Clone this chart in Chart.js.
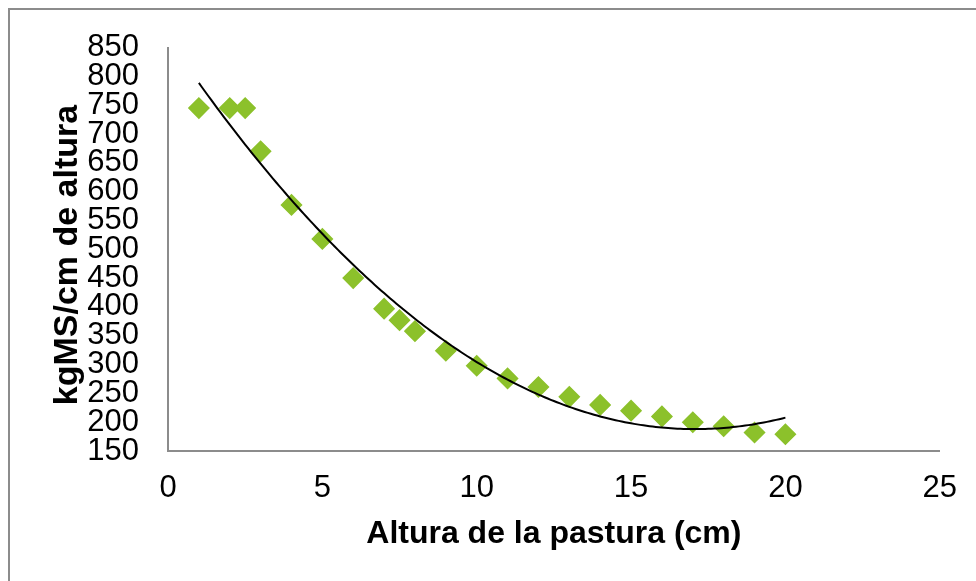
<!DOCTYPE html>
<html>
<head>
<meta charset="utf-8">
<script src="https://cdn.jsdelivr.net/npm/chart.js@4/dist/chart.umd.min.js"></script>
<style>
  html, body { margin: 0; padding: 0; background: #ffffff; }
  #wrap { width: 976px; height: 581px; position: relative; }
</style>
</head>
<body>
<div id="wrap"><canvas id="c" width="976" height="581"></canvas></div>
<script>
// Altura de la pastura (cm) y kgMS por cm de altura
const alturas = [1, 2, 2.5, 3, 4, 5, 6, 7, 7.5, 8, 9, 10, 11, 12, 13, 14, 15, 16, 17, 18, 19, 20];
const kgMS = [745, 745, 745, 670, 577, 518, 450, 397, 377, 358, 324, 298, 276, 261, 244, 230, 220, 210, 200, 193, 182, 179];

const xTicks = [0, 5, 10, 15, 20, 25];
const yTicks = [150, 200, 250, 300, 350, 400, 450, 500, 550, 600, 650, 700, 750, 800, 850];

const tituloX = 'Altura de la pastura (cm)';
const tituloY = 'kgMS/cm de altura';

// Polynomial (order 2) least-squares trendline
function ajustePoli2(xs, ys) {
  let n = xs.length, sx = 0, sx2 = 0, sx3 = 0, sx4 = 0, sy = 0, sxy = 0, sx2y = 0;
  for (let i = 0; i < n; i++) {
    const x = xs[i], y = ys[i], x2 = x * x;
    sx += x; sx2 += x2; sx3 += x2 * x; sx4 += x2 * x2;
    sy += y; sxy += x * y; sx2y += x2 * y;
  }
  // Solve normal equations with Cramer's rule
  const M = [[n, sx, sx2], [sx, sx2, sx3], [sx2, sx3, sx4]];
  const B = [sy, sxy, sx2y];
  const det3 = m => m[0][0] * (m[1][1] * m[2][2] - m[1][2] * m[2][1])
                  - m[0][1] * (m[1][0] * m[2][2] - m[1][2] * m[2][0])
                  + m[0][2] * (m[1][0] * m[2][1] - m[1][1] * m[2][0]);
  const D = det3(M);
  const coef = [0, 1, 2].map(k => det3(M.map((row, r) => row.map((v, c) => c === k ? B[r] : v))) / D);
  return coef; // c0 + c1 x + c2 x^2
}
const coef = ajustePoli2(alturas, kgMS);
const xMin = Math.min(...alturas), xMax = Math.max(...alturas);
const tendencia = [];
for (let i = 0; i <= 190; i++) {
  const x = xMin + (xMax - xMin) * i / 190;
  tendencia.push({ x, y: coef[0] + coef[1] * x + coef[2] * x * x });
}

const puntos = alturas.map((x, i) => ({ x, y: kgMS[i] }));

// Frame around the chart and the vertical axis title
const marco = {
  id: 'marco',
  afterDraw(chart) {
    const ctx = chart.ctx;
    ctx.save();
    ctx.strokeStyle = '#8c8c8c';
    ctx.lineWidth = 2;
    ctx.strokeRect(9, 9, 1200, 1200);
    ctx.fillStyle = '#000000';
    ctx.font = 'bold 34px "Liberation Sans", Arial, sans-serif';
    ctx.textAlign = 'center';
    ctx.textBaseline = 'middle';
    ctx.translate(68, 255);
    ctx.rotate(-Math.PI / 2);
    ctx.fillText(tituloY, 0, 0);
    ctx.restore();
  }
};

new Chart(document.getElementById('c'), {
  type: 'scatter',
  data: {
    datasets: [
      {
        label: 'kgMS',
        data: puntos,
        pointStyle: 'rectRot',
        pointRadius: 10,
        pointHoverRadius: 10,
        backgroundColor: '#8cc12b',
        borderColor: '#8cc12b',
        borderWidth: 1.5,
        order: 2
      },
      {
        label: 'Tendencia',
        type: 'line',
        data: tendencia,
        borderColor: '#000000',
        borderWidth: 2,
        pointRadius: 0,
        fill: false,
        tension: 0,
        order: 1
      }
    ]
  },
  options: {
    responsive: false,
    animation: false,
    layout: { padding: { top: 40, right: 35, left: 0, bottom: 0 } },
    plugins: { legend: { display: false }, tooltip: { enabled: false } },
    scales: {
      x: {
        type: 'linear',
        min: 0, max: 25,
        afterBuildTicks: s => { s.ticks = xTicks.map(v => ({ value: v })); },
        afterFit: s => { s.height = 130; },
        grid: { display: false, drawTicks: false },
        border: { display: true, color: '#8c8c8c', width: 2 },
        ticks: {
          padding: 19,
          color: '#000000',
          font: { family: '"Liberation Sans", Arial, sans-serif', size: 31 },
          maxRotation: 0,
          autoSkip: false
        },
        title: {
          display: true,
          text: tituloX,
          color: '#000000',
          font: { family: '"Liberation Sans", Arial, sans-serif', size: 32, weight: 'bold' },
          padding: { top: 0, bottom: 28 }
        }
      },
      y: {
        type: 'linear',
        min: 150, max: 850,
        afterBuildTicks: s => { s.ticks = yTicks.map(v => ({ value: v })); },
        afterFit: s => { s.width = 168; },
        grid: { display: false, drawTicks: false },
        border: { display: true, color: '#8c8c8c', width: 2 },
        ticks: {
          padding: 29,
          color: '#000000',
          font: { family: '"Liberation Sans", Arial, sans-serif', size: 31 },
          autoSkip: false
        }
      }
    }
  },
  plugins: [marco]
});
</script>
</body>
</html>
